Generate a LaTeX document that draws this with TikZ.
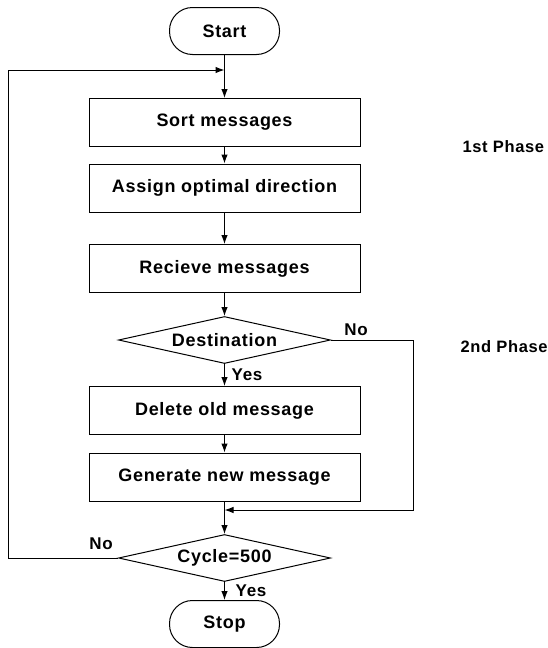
\documentclass[tikz,border=0pt]{standalone}
\usepackage{fontspec}
\newfontfamily\chartfont{Liberation Sans}[LetterSpace=4]
\usetikzlibrary{shapes.geometric}
\usetikzlibrary{arrows.meta}

\begin{document}
\begin{tikzpicture}[x=1pt,y=-1pt,line width=1pt,
  box/.style={draw, rectangle, minimum width=271pt, minimum height=48pt, font=\chartfont\bfseries\fontsize{18}{20}\selectfont},
  term/.style={draw, rectangle, rounded corners=23pt, minimum width=110pt, minimum height=47pt, font=\chartfont\bfseries\fontsize{18}{20}\selectfont},
  test/.style={draw, diamond, aspect=4.5, inner sep=0pt, minimum width=212pt, minimum height=47pt, font=\chartfont\bfseries\fontsize{18}{20}\selectfont},
  lbl/.style={inner sep=0pt, font=\chartfont\bfseries\fontsize{17}{19}\selectfont},
  phase/.style={anchor=west, inner sep=0pt, font=\chartfont\bfseries\fontsize{16.5}{19}\selectfont},
  flow/.style={-{Latex[length=9pt,width=6.5pt]}},
]
\useasboundingbox (0,0) rectangle (548,648);
\clip (0,0) rectangle (548,648);

\node [term] (start) at (224.5,31) {Start};
\node [box] (sort) at (224.5,122.5) {Sort messages};
\node [box] (assign) at (224.5,188) {Assign optimal direction};
\node [box] (recv) at (224.5,268.5) {Recieve messages};
\node [test] (dest) at (224.5,340) {Destination};
\node [box] (delete) at (224.5,410.5) {Delete old message};
\node [box] (gen) at (224.5,477) {Generate new message};
\node [test] (cycle) at (224.5,558) {Cycle=500};
\node [term] (stop) at (224.5,624) {Stop};

\node [lbl] (no1) at (356,330) {No};
\node [lbl] (yes1) at (247,375) {Yes};
\node [lbl] (no2) at (101,544) {No};
\node [lbl] (yes2) at (251,591) {Yes};

\node [phase] (ph1) at (462,147) {1st Phase};
\node [phase] (ph2) at (460,347) {2nd Phase};

\coordinate (join1) at (224.5,70);
\coordinate (back1) at (8,558);
\coordinate (back2) at (8,70);
\coordinate (join2) at (224.5,510);
\coordinate (right1) at (413,340);
\coordinate (right2) at (413,510);

\draw [flow] (start) -- (sort);
\draw [flow] (sort) -- (assign);
\draw [flow] (assign) -- (recv);
\draw [flow] (recv) -- (dest);
\draw [flow] (dest) -- (delete);
\draw [flow] (delete) -- (gen);
\draw [flow] (gen) -- (cycle);
\draw [flow] (cycle) -- (stop);
\draw [flow] (dest.east) -- (right1) -- (right2) -- (join2);
\draw [flow] (cycle.west) -- (back1) -- (back2) -- (join1);
\end{tikzpicture}
\end{document}
